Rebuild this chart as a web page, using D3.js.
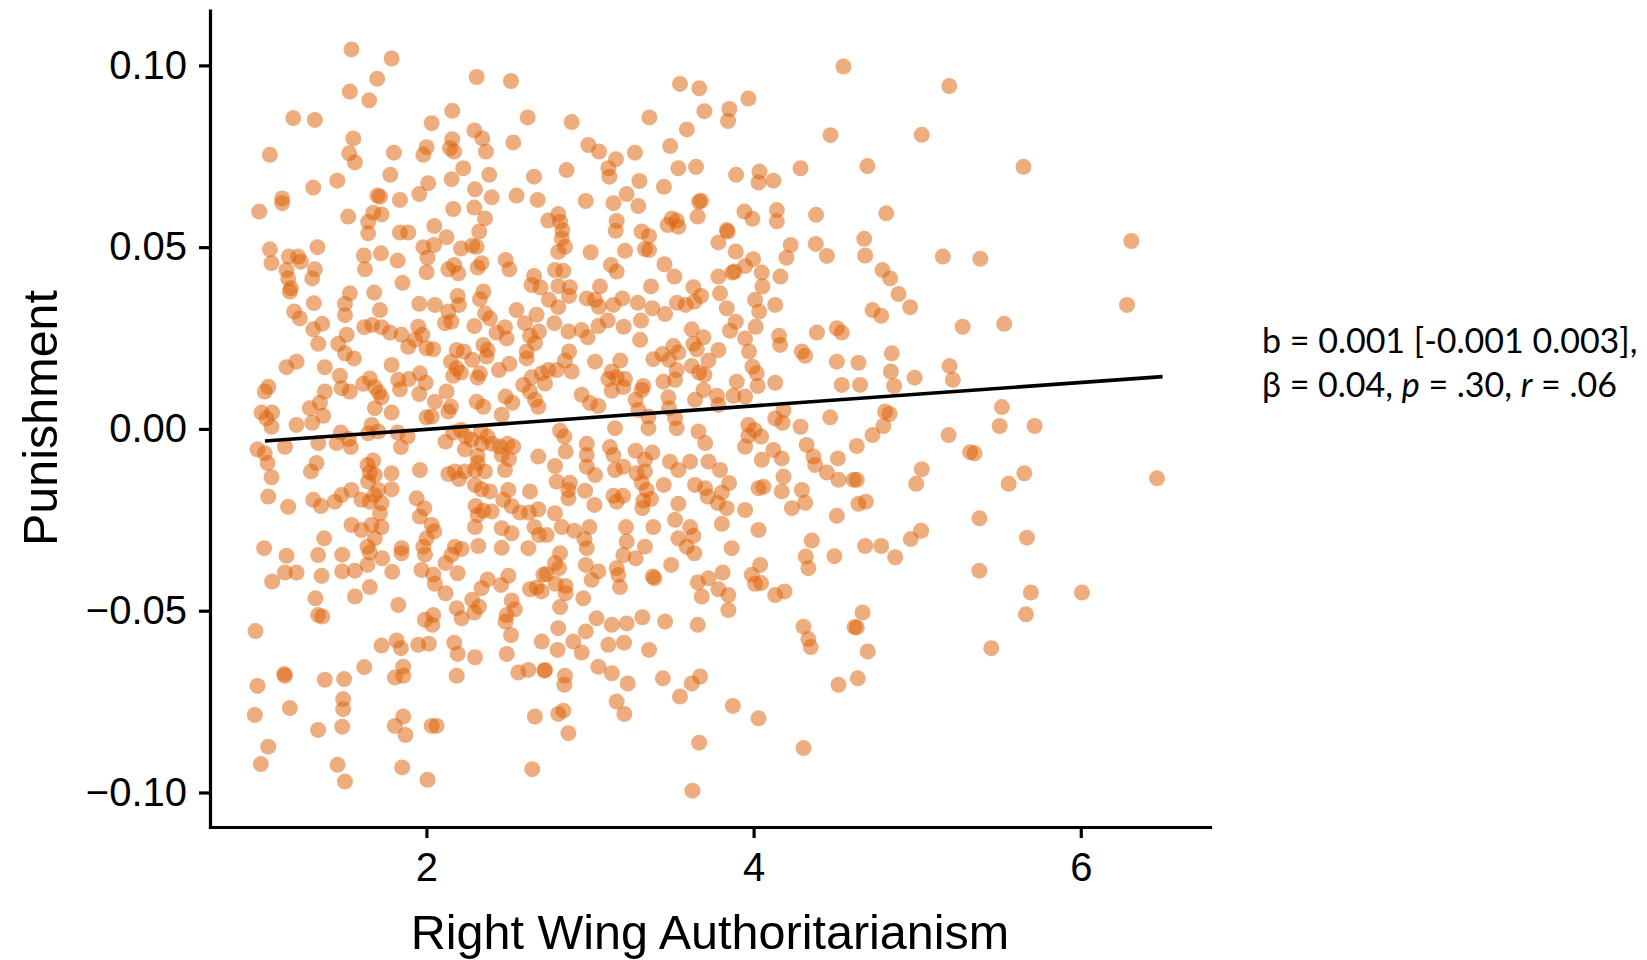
<!DOCTYPE html>
<html>
<head>
<meta charset="utf-8">
<script src="https://cdn.jsdelivr.net/npm/d3@7"></script>
<style>
  body { margin: 0; background: #fff; }
  svg text { font-family: "Liberation Sans", Arial, sans-serif; fill: #000; }
  .note text { font-family: Lato, "Open Sans", sans-serif; }
</style>
</head>
<body>
<div id="chart"></div>
<script>
// RWA score vs punishment, one pair per respondent
var obs = [
  // upper left
  [1.542,0.1044],[1.787,0.1019],[2.307,0.0968],[2.517,0.0957],[1.699,0.0963],[1.532,0.0928],[1.650,0.0904],
  [2.158,0.0875],[1.186,0.0855],[1.318,0.0850],[2.619,0.0857],[2.032,0.0841],[2.293,0.0821],[2.342,0.0799],
  [1.553,0.0799],[2.158,0.0797],[2.531,0.0788],[1.043,0.0754],[1.528,0.0758],[1.563,0.0733],[1.801,0.0760],
  [2.001,0.0775],[1.981,0.0754],[2.144,0.0772],[2.170,0.0763],[2.364,0.0763],[2.225,0.0717],[1.779,0.0699],
  [2.384,0.0699],[2.658,0.0694],[1.455,0.0683],[2.154,0.0687],[2.011,0.0676],[1.308,0.0664],[2.297,0.0659],
  [2.399,0.0637],[1.118,0.0634],[1.118,0.0621],[1.701,0.0642],[1.716,0.0639],[1.838,0.0630],[1.956,0.0646],
  [2.551,0.0642],[2.680,0.0630],[0.978,0.0598],[1.522,0.0584],[1.675,0.0595],[1.726,0.0590],[1.644,0.0570],
  [1.644,0.0538],[2.164,0.0605],[2.293,0.0609],[2.358,0.0579],[2.048,0.0558],[1.838,0.0540],[1.889,0.0540],
  [2.123,0.0527],[2.323,0.0543],[1.043,0.0494],[1.053,0.0456],[1.159,0.0474],[1.216,0.0474],[1.232,0.0460],
  [1.334,0.0500],[1.145,0.0437],[1.155,0.0414],[1.171,0.0387],[1.318,0.0439],[1.302,0.0414],[1.618,0.0477],
  [1.624,0.0439],[1.722,0.0483],[1.824,0.0463],[1.981,0.0500],[2.046,0.0506],[2.007,0.0471],[2.001,0.0431],
  [2.211,0.0496],[2.280,0.0504],[2.307,0.0501],[2.337,0.0456],[2.313,0.0444],[2.134,0.0439],[2.170,0.0451],
  [2.195,0.0428],[1.854,0.0402],[2.484,0.0465],[2.507,0.0439],[2.658,0.0421],[2.643,0.0396],[2.698,0.0389],
  // upper middle
  [4.549,0.0997],[3.550,0.0949],[3.668,0.0937],[3.968,0.0909],[3.699,0.0874],[3.852,0.0880],[3.844,0.0847],
  [3.363,0.0857],[2.888,0.0844],[3.592,0.0824],[4.470,0.0808],[2.990,0.0781],[3.055,0.0763],[3.490,0.0778],
  [3.275,0.0760],[3.159,0.0742],[3.112,0.0717],[3.118,0.0694],[2.857,0.0712],[3.540,0.0717],[3.648,0.0721],
  [3.893,0.0699],[4.036,0.0708],[4.030,0.0678],[4.121,0.0683],[4.287,0.0717],[3.302,0.0682],[3.452,0.0666],
  [3.224,0.0646],[2.974,0.0627],[3.143,0.0621],[3.295,0.0613],[3.667,0.0625],[3.658,0.0584],[3.679,0.0628],
  [3.500,0.0579],[3.475,0.0561],[3.540,0.0556],[3.530,0.0573],[2.806,0.0591],[2.745,0.0573],[2.817,0.0570],
  [2.831,0.0547],[2.827,0.0524],[2.847,0.0501],[2.806,0.0487],[3.163,0.0572],[3.157,0.0545],[3.316,0.0543],
  [3.361,0.0531],[3.336,0.0495],[3.361,0.0492],[3.004,0.0486],[3.214,0.0490],[3.836,0.0547],[3.842,0.0543],
  [3.785,0.0513],[3.944,0.0598],[3.993,0.0578],[4.142,0.0602],[4.142,0.0571],[4.382,0.0589],[4.380,0.0509],
  [4.448,0.0476],[4.227,0.0506],[4.201,0.0471],[3.891,0.0488],[3.997,0.0467],[3.948,0.0448],[3.883,0.0433],
  [3.870,0.0430],[4.050,0.0430],[4.054,0.0392],[4.164,0.0419],[3.128,0.0451],[3.163,0.0433],[3.455,0.0453],
  [3.516,0.0419],[3.785,0.0419],[2.786,0.0437],[2.837,0.0435],[2.806,0.0393],[2.877,0.0390],[3.061,0.0392],
  [3.373,0.0392],[3.632,0.0390],
  // upper right
  [5.196,0.0943],[5.028,0.0809],[4.696,0.0723],[5.650,0.0721],[4.811,0.0593],[4.676,0.0523],[4.682,0.0477],
  [5.157,0.0474],[5.386,0.0468],[4.788,0.0437],[4.835,0.0414],[6.309,0.0517],
  // centre left
  [1.165,0.0378],[1.312,0.0346],[1.192,0.0323],[1.226,0.0304],[1.502,0.0344],[1.502,0.0313],[1.532,0.0373],
  [1.681,0.0375],[1.716,0.0327],[1.956,0.0344],[2.052,0.0341],[2.134,0.0323],[2.191,0.0366],[2.199,0.0341],
  [2.153,0.0295],[2.113,0.0291],[2.327,0.0357],[2.348,0.0378],[2.358,0.0318],[2.388,0.0304],[2.293,0.0283],
  [2.551,0.0327],[2.673,0.0314],[1.363,0.0289],[1.308,0.0274],[1.339,0.0234],[1.512,0.0259],[1.461,0.0234],
  [1.502,0.0208],[1.557,0.0194],[1.620,0.0280],[1.668,0.0286],[1.726,0.0280],[1.777,0.0265],[1.848,0.0259],
  [1.889,0.0226],[1.950,0.0281],[1.975,0.0259],[1.930,0.0245],[2.001,0.0222],[2.042,0.0219],[2.185,0.0217],
  [2.229,0.0213],[2.150,0.0185],[2.185,0.0167],[2.211,0.0155],[2.164,0.0146],[2.280,0.0190],[2.327,0.0153],
  [2.348,0.0231],[2.374,0.0217],[2.368,0.0199],[2.429,0.0265],[2.480,0.0280],[2.490,0.0249],[2.443,0.0162],
  [2.507,0.0179],[2.602,0.0291],[2.633,0.0256],[2.688,0.0268],[2.664,0.0236],[2.613,0.0213],[2.613,0.0194],
  [1.787,0.0176],[1.145,0.0170],[1.206,0.0185],[1.379,0.0170],[1.471,0.0146],[1.481,0.0112],[1.532,0.0103],
  [1.614,0.0124],[1.654,0.0139],[1.685,0.0115],[1.709,0.0100],[1.726,0.0087],[1.828,0.0135],[1.838,0.0109],
  [1.893,0.0137],[1.960,0.0153],[1.995,0.0127],[1.956,0.0096],[2.052,0.0075],[2.123,0.0103],[2.150,0.0061],
  [2.134,0.0048],[2.313,0.0141],[2.307,0.0075],[2.348,0.0061],[2.484,0.0089],[2.525,0.0072],[2.460,0.0039],
  [2.592,0.0121],[2.633,0.0103],[2.664,0.0080],[2.684,0.0061],[2.704,0.0153],[2.643,0.0142],[1.033,0.0116],
  [1.012,0.0103],[0.992,0.0045],[1.057,0.0045],[1.053,0.0006],[1.022,0.0029],[1.287,0.0057],[1.302,0.0017],
  [1.349,0.0072],[1.369,0.0036],[1.379,0.0103],[1.206,0.0011],[1.787,0.0045],[2.000,0.0032],[2.032,0.0034],
  [1.685,0.0057],[1.665,0.0011],[1.706,-0.0007],[1.644,-0.0012],[1.477,-0.0010],[1.526,-0.0028],[1.538,-0.0050],
  [1.451,-0.0039],[1.339,-0.0039],[0.967,-0.0056],[1.012,-0.0067],[1.029,-0.0094],[1.053,-0.0133],[1.135,-0.0049],
  [1.033,-0.0186],[1.155,-0.0214],[1.294,-0.0117],[1.328,-0.0094],[1.308,-0.0195],[1.355,-0.0212],[1.440,-0.0200],
  [1.481,-0.0182],[1.542,-0.0168],[1.603,-0.0195],[1.654,-0.0200],[1.681,-0.0182],[1.640,-0.0099],[1.675,-0.0087],
  [1.654,-0.0120],[1.685,-0.0127],[1.644,-0.0145],[1.787,-0.0122],[1.787,-0.0166],[1.706,-0.0168],[1.726,-0.0204],
  [1.716,-0.0232],[1.665,-0.0264],[1.685,-0.0301],[1.640,-0.0324],[1.726,-0.0270],[1.542,-0.0264],[1.603,-0.0278],
  [1.375,-0.0301],[1.008,-0.0328],[1.844,-0.0050],[1.885,-0.0021],[1.824,-0.0010],[1.960,-0.0113],[1.940,-0.0191],
  [1.987,-0.0218],[1.960,-0.0241],[2.032,-0.0264],[2.048,-0.0282],[2.001,-0.0301],[1.981,-0.0324],[1.848,-0.0328],
  [2.117,-0.0035],[2.164,-0.0010],[2.211,-0.0003],[2.240,-0.0021],[2.276,-0.0030],[2.333,-0.0007],[2.374,-0.0021],
  [2.337,-0.0041],[2.403,-0.0041],[2.235,-0.0056],[2.313,-0.0074],[2.313,-0.0094],[2.134,-0.0124],[2.174,-0.0117],
  [2.199,-0.0138],[2.235,-0.0117],[2.297,-0.0113],[2.358,-0.0117],[2.450,-0.0049],[2.496,-0.0041],[2.531,-0.0049],
  [2.460,-0.0072],[2.505,-0.0083],[2.480,-0.0113],[2.684,-0.0076],[2.297,-0.0154],[2.337,-0.0166],[2.388,-0.0172],
  [2.501,-0.0168],[2.633,-0.0172],[2.301,-0.0212],[2.348,-0.0225],[2.399,-0.0227],[2.313,-0.0237],[2.470,-0.0195],
  [2.521,-0.0212],[2.572,-0.0230],[2.627,-0.0230],[2.684,-0.0221],[2.660,-0.0270],[2.688,-0.0292],[2.297,-0.0270],
  [2.460,-0.0273],[2.521,-0.0287],[2.317,-0.0322],[2.460,-0.0327],[2.623,-0.0328],[2.174,-0.0324],[2.215,-0.0330],
  // centre
  [2.749,0.0355],[2.806,0.0335],[2.782,0.0291],[2.872,0.0366],[2.980,0.0359],[3.031,0.0355],[3.055,0.0336],
  [3.143,0.0341],[3.198,0.0359],[3.206,0.0281],[2.868,0.0268],[2.949,0.0272],[2.986,0.0252],[3.051,0.0283],
  [3.108,0.0298],[3.292,0.0347],[3.312,0.0298],[3.381,0.0332],[3.459,0.0316],[3.306,0.0245],[3.531,0.0347],
  [3.585,0.0341],[3.638,0.0350],[3.679,0.0366],[3.795,0.0373],[3.836,0.0332],[4.009,0.0355],[4.034,0.0323],
  [4.132,0.0341],[3.891,0.0295],[3.856,0.0270],[3.948,0.0249],[4.013,0.0281],[3.622,0.0274],[3.694,0.0252],
  [3.632,0.0234],[3.387,0.0192],[3.442,0.0206],[3.510,0.0228],[3.540,0.0210],[3.483,0.0190],[3.530,0.0162],
  [3.520,0.0135],[3.449,0.0130],[3.653,0.0219],[3.622,0.0173],[3.667,0.0155],[3.699,0.0149],[3.724,0.0188],
  [3.785,0.0217],[3.694,0.0107],[3.642,0.0080],[3.777,0.0091],[3.785,0.0066],[3.877,0.0091],[3.897,0.0130],
  [3.948,0.0089],[3.972,0.0213],[3.993,0.0171],[4.019,0.0153],[4.025,0.0118],[4.132,0.0127],[4.156,0.0256],
  [4.162,0.0231],[4.295,0.0213],[4.315,0.0201],[4.387,0.0265],[4.509,0.0277],[4.539,0.0265],[4.509,0.0185],
  [4.539,0.0121],[3.031,0.0185],[3.133,0.0158],[3.185,0.0188],[3.112,0.0137],[3.163,0.0142],[3.133,0.0105],
  [3.214,0.0137],[3.204,0.0115],[3.326,0.0118],[3.316,0.0107],[3.279,0.0080],[2.745,0.0162],[2.796,0.0162],
  [2.847,0.0188],[2.872,0.0213],[2.888,0.0158],[2.725,0.0125],[2.949,0.0094],[3.000,0.0071],[3.051,0.0063],
  [3.296,0.0052],[3.357,0.0034],[3.479,0.0087],[3.483,0.0057],[3.530,0.0002],[3.520,0.0030],[2.817,-0.0005],
  [2.843,-0.0021],[3.153,0.0002],[3.357,0.0002],[3.663,-0.0007],[3.704,-0.0039],[3.968,0.0011],[4.005,-0.0003],
  [4.046,-0.0021],[3.968,-0.0019],[3.948,-0.0049],[4.132,0.0029],[4.177,0.0017],[4.183,0.0052],[4.287,0.0006],
  [4.468,0.0032],[4.324,-0.0044],[4.121,-0.0058],[4.172,-0.0081],[4.050,-0.0085],[4.366,-0.0076],[4.376,-0.0099],
  [4.515,-0.0081],[4.448,-0.0120],[4.519,-0.0140],[4.611,-0.0140],[4.183,-0.0131],[4.060,-0.0159],[4.030,-0.0163],
  [4.172,-0.0172],[4.295,-0.0168],[4.315,-0.0203],[4.234,-0.0218],[4.509,-0.0239],[2.851,-0.0062],[2.980,-0.0041],
  [2.980,-0.0072],[3.122,-0.0050],[3.143,-0.0072],[3.279,-0.0060],[3.336,-0.0085],[3.381,-0.0065],[2.786,-0.0102],
  [2.796,-0.0145],[2.877,-0.0148],[2.980,-0.0104],[3.031,-0.0127],[3.153,-0.0113],[3.204,-0.0104],[3.285,-0.0122],
  [3.336,-0.0117],[3.316,-0.0148],[3.346,-0.0168],[3.451,-0.0154],[3.489,-0.0090],[3.540,-0.0113],[3.612,-0.0090],
  [3.724,-0.0090],[3.795,-0.0113],[3.642,-0.0154],[3.704,-0.0163],[3.720,-0.0186],[3.806,-0.0175],[3.850,-0.0149],
  [3.781,-0.0204],[3.836,-0.0218],[3.948,-0.0223],[2.970,-0.0170],[3.027,-0.0209],[2.868,-0.0168],[2.868,-0.0191],
  [2.786,-0.0232],[3.143,-0.0184],[3.163,-0.0200],[3.202,-0.0184],[3.326,-0.0197],[3.320,-0.0218],[3.373,-0.0193],
  [3.540,-0.0206],[3.520,-0.0250],[3.220,-0.0270],[3.224,-0.0310],[3.387,-0.0270],[3.612,-0.0270],[3.632,-0.0294],
  [3.540,-0.0301],[3.591,-0.0324],[3.806,-0.0261],[4.030,-0.0278],[3.866,-0.0328],[4.356,-0.0307],[2.827,-0.0270],
  [2.904,-0.0280],[2.997,-0.0270],[2.966,-0.0303],[2.980,-0.0328],[2.735,-0.0292],[3.336,-0.0324],
  // centre right
  [4.886,0.0371],[4.727,0.0327],[4.780,0.0311],[4.957,0.0335],[5.278,0.0281],[5.532,0.0289],[6.283,0.0341],
  [4.641,0.0182],[4.845,0.0208],[4.839,0.0158],[4.651,0.0121],[4.859,0.0118],[4.984,0.0141],[5.198,0.0173],
  [5.218,0.0135],[4.804,0.0048],[4.831,0.0041],[4.794,0.0008],[4.727,-0.0017],[4.631,-0.0047],[5.192,-0.0017],
  [5.518,0.0060],[5.504,0.0008],[5.718,0.0008],[5.324,-0.0064],[5.351,-0.0067],[5.028,-0.0111],[4.994,-0.0151],
  [5.655,-0.0122],[5.559,-0.0151],[6.466,-0.0136],[4.631,-0.0140],[4.641,-0.0206],[4.686,-0.0200],[5.381,-0.0246],
  [5.671,-0.0299],[5.024,-0.0280],[4.961,-0.0303],[4.682,-0.0322],[4.780,-0.0322],
  // lower left
  [1.145,-0.0349],[1.338,-0.0347],[1.485,-0.0346],[1.654,-0.0340],[1.730,-0.0356],[1.848,-0.0342],[1.991,-0.0346],
  [2.154,-0.0346],[1.057,-0.0420],[1.135,-0.0395],[1.206,-0.0395],[1.359,-0.0404],[1.485,-0.0392],[1.563,-0.0390],
  [1.640,-0.0374],[1.654,-0.0435],[1.563,-0.0461],[1.791,-0.0393],[1.322,-0.0466],[1.338,-0.0512],[1.363,-0.0516],
  [1.828,-0.0484],[1.970,-0.0388],[2.042,-0.0401],[2.052,-0.0426],[2.117,-0.0369],[2.191,-0.0397],[2.117,-0.0452],
  [1.991,-0.0525],[2.042,-0.0512],[2.036,-0.0539],[2.185,-0.0493],[2.215,-0.0521],[2.280,-0.0470],[2.293,-0.0505],
  [2.321,-0.0489],[2.337,-0.0438],[2.374,-0.0414],[2.456,-0.0429],[2.501,-0.0404],[2.521,-0.0472],[2.541,-0.0496],
  [2.490,-0.0512],[2.484,-0.0530],[2.633,-0.0441],[2.674,-0.0436],[2.704,-0.0447],[2.715,-0.0401],[2.517,-0.0567],
  [2.491,-0.0619],[2.562,-0.0670],[2.623,-0.0663],[2.721,-0.0665],[2.705,-0.0585],[0.955,-0.0556],[0.967,-0.0707],
  [0.951,-0.0787],[1.033,-0.0874],[0.988,-0.0922],[1.131,-0.0674],[1.135,-0.0679],[1.165,-0.0768],[1.379,-0.0690],
  [1.338,-0.0828],[1.497,-0.0688],[1.491,-0.0743],[1.491,-0.0771],[1.485,-0.0819],[1.457,-0.0924],[1.502,-0.0970],
  [1.620,-0.0655],[1.726,-0.0596],[1.818,-0.0582],[1.844,-0.0603],[1.950,-0.0594],[2.015,-0.0591],[1.858,-0.0654],
  [1.807,-0.0684],[1.858,-0.0679],[2.170,-0.0588],[2.191,-0.0619],[2.297,-0.0628],[2.185,-0.0679],[1.858,-0.0791],
  [1.807,-0.0817],[1.872,-0.0842],[2.032,-0.0817],[2.062,-0.0817],[1.852,-0.0931],[2.007,-0.0965],[2.663,-0.0791],
  [2.647,-0.0936],
  // lower middle
  [2.817,-0.0342],[3.204,-0.0347],[3.279,-0.0356],[3.638,-0.0342],[4.319,-0.0351],[4.335,-0.0383],[4.494,-0.0350],
  [2.786,-0.0369],[2.811,-0.0383],[2.790,-0.0426],[2.851,-0.0432],[2.851,-0.0452],[2.735,-0.0399],[2.974,-0.0374],
  [3.051,-0.0392],[3.010,-0.0415],[3.163,-0.0383],[3.173,-0.0402],[3.183,-0.0435],[3.394,-0.0411],[3.384,-0.0406],
  [3.496,-0.0374],[3.659,-0.0422],[3.724,-0.0411],[3.683,-0.0461],[3.811,-0.0395],[3.785,-0.0441],[3.846,-0.0457],
  [3.846,-0.0498],[3.989,-0.0401],[4.040,-0.0374],[4.009,-0.0426],[4.046,-0.0424],[4.132,-0.0457],[4.189,-0.0447],
  [2.959,-0.0466],[2.817,-0.0490],[3.040,-0.0521],[3.133,-0.0539],[3.224,-0.0535],[3.320,-0.0518],[3.459,-0.0530],
  [3.659,-0.0539],[2.806,-0.0548],[2.802,-0.0608],[2.898,-0.0585],[2.949,-0.0615],[2.974,-0.0557],[3.112,-0.0594],
  [3.208,-0.0588],[3.361,-0.0608],[3.051,-0.0654],[3.133,-0.0672],[3.231,-0.0700],[2.847,-0.0679],[2.843,-0.0704],
  [2.725,-0.0663],[3.445,-0.0686],[3.622,-0.0700],[3.673,-0.0681],[3.550,-0.0736],[3.163,-0.0750],[3.210,-0.0784],
  [2.806,-0.0784],[2.837,-0.0775],[2.868,-0.0837],[3.873,-0.0762],[4.030,-0.0796],[3.667,-0.0863],[4.305,-0.0878],
  [3.626,-0.0995],[4.305,-0.0544],[4.335,-0.0578],[4.349,-0.0600],[4.519,-0.0704],[4.617,-0.0545],
  // lower right
  [4.866,-0.0353],[5.380,-0.0390],[5.695,-0.0450],[6.007,-0.0450],[5.665,-0.0510],[4.666,-0.0505],[4.631,-0.0546],
  [4.698,-0.0612],[5.453,-0.0603],[4.637,-0.0686]
];

// fitted line, read at its two ends
var fitRwa = [1.013, 6.50];
var fitPun = [-0.0033, 0.0144];

var xTicks = [2, 4, 6];
var yTicks = [-0.10, -0.05, 0.00, 0.05, 0.10];
var note1 = "b = 0.001 [-0.001 0.003],";

var width = 1647, height = 960;

var svg = d3.select("#chart").append("svg")
    .attr("width", width)
    .attr("height", height);

svg.append("rect").attr("width", width).attr("height", height).attr("fill", "#fff");

var x = d3.scaleLinear().domain([0.677, 6.79]).range([210, 1210]);
var y = d3.scaleLinear().domain([-0.1095, 0.1151]).range([827, 10.5]);

svg.append("g")
    .selectAll("circle")
    .data(obs)
    .enter().append("circle")
    .attr("cx", function(d) { return x(d[0]); })
    .attr("cy", function(d) { return y(d[1]); })
    .attr("r", 8)
    .attr("fill", "#DC6108")
    .attr("fill-opacity", 0.52);

var line = d3.line()
    .x(function(d) { return x(d[0]); })
    .y(function(d) { return y(d[1]); });

svg.append("path")
    .datum(fitRwa.map(function(v, i) { return [v, fitPun[i]]; }))
    .attr("d", line)
    .attr("fill", "none")
    .attr("stroke", "#000")
    .attr("stroke-width", 3.6);

var yAxis = svg.append("g")
    .attr("transform", "translate(210,0)")
    .call(d3.axisLeft(y).tickValues(yTicks).tickFormat(d3.format(".2f")).tickSize(11).tickSizeOuter(0).tickPadding(12));

var xAxis = svg.append("g")
    .attr("transform", "translate(0,827)")
    .call(d3.axisBottom(x).tickValues(xTicks).tickFormat(d3.format("d")).tickSize(11).tickSizeOuter(0).tickPadding(15));

[yAxis, xAxis].forEach(function(g) {
    g.select(".domain").attr("stroke", "#000").attr("stroke-width", 3.2).attr("stroke-linecap", "square");
    g.selectAll(".tick line").attr("stroke", "#000").attr("stroke-width", 3.2);
    g.selectAll(".tick text").attr("font-size", 40).attr("font-family", "Liberation Sans, Arial, sans-serif").attr("fill", "#000");
});

svg.append("text")
    .attr("x", 710)
    .attr("y", 949)
    .attr("text-anchor", "middle")
    .attr("font-size", 48.5)
    .text("Right Wing Authoritarianism");

svg.append("text")
    .attr("transform", "translate(57,418) rotate(-90)")
    .attr("text-anchor", "middle")
    .attr("font-size", 48.5)
    .text("Punishment");

var note = svg.append("g").attr("class", "note");

note.append("text")
    .attr("x", 1262)
    .attr("y", 353)
    .attr("font-size", 34)
    .text(note1);

var l2 = note.append("text")
    .attr("x", 1262)
    .attr("y", 397)
    .attr("font-size", 34);
l2.append("tspan").text("\u03B2 = 0.04, ");
l2.append("tspan").attr("font-style", "italic").text("p");
l2.append("tspan").text(" = .30, ");
l2.append("tspan").attr("font-style", "italic").text("r");
l2.append("tspan").text(" = .06");
</script>
</body>
</html>
